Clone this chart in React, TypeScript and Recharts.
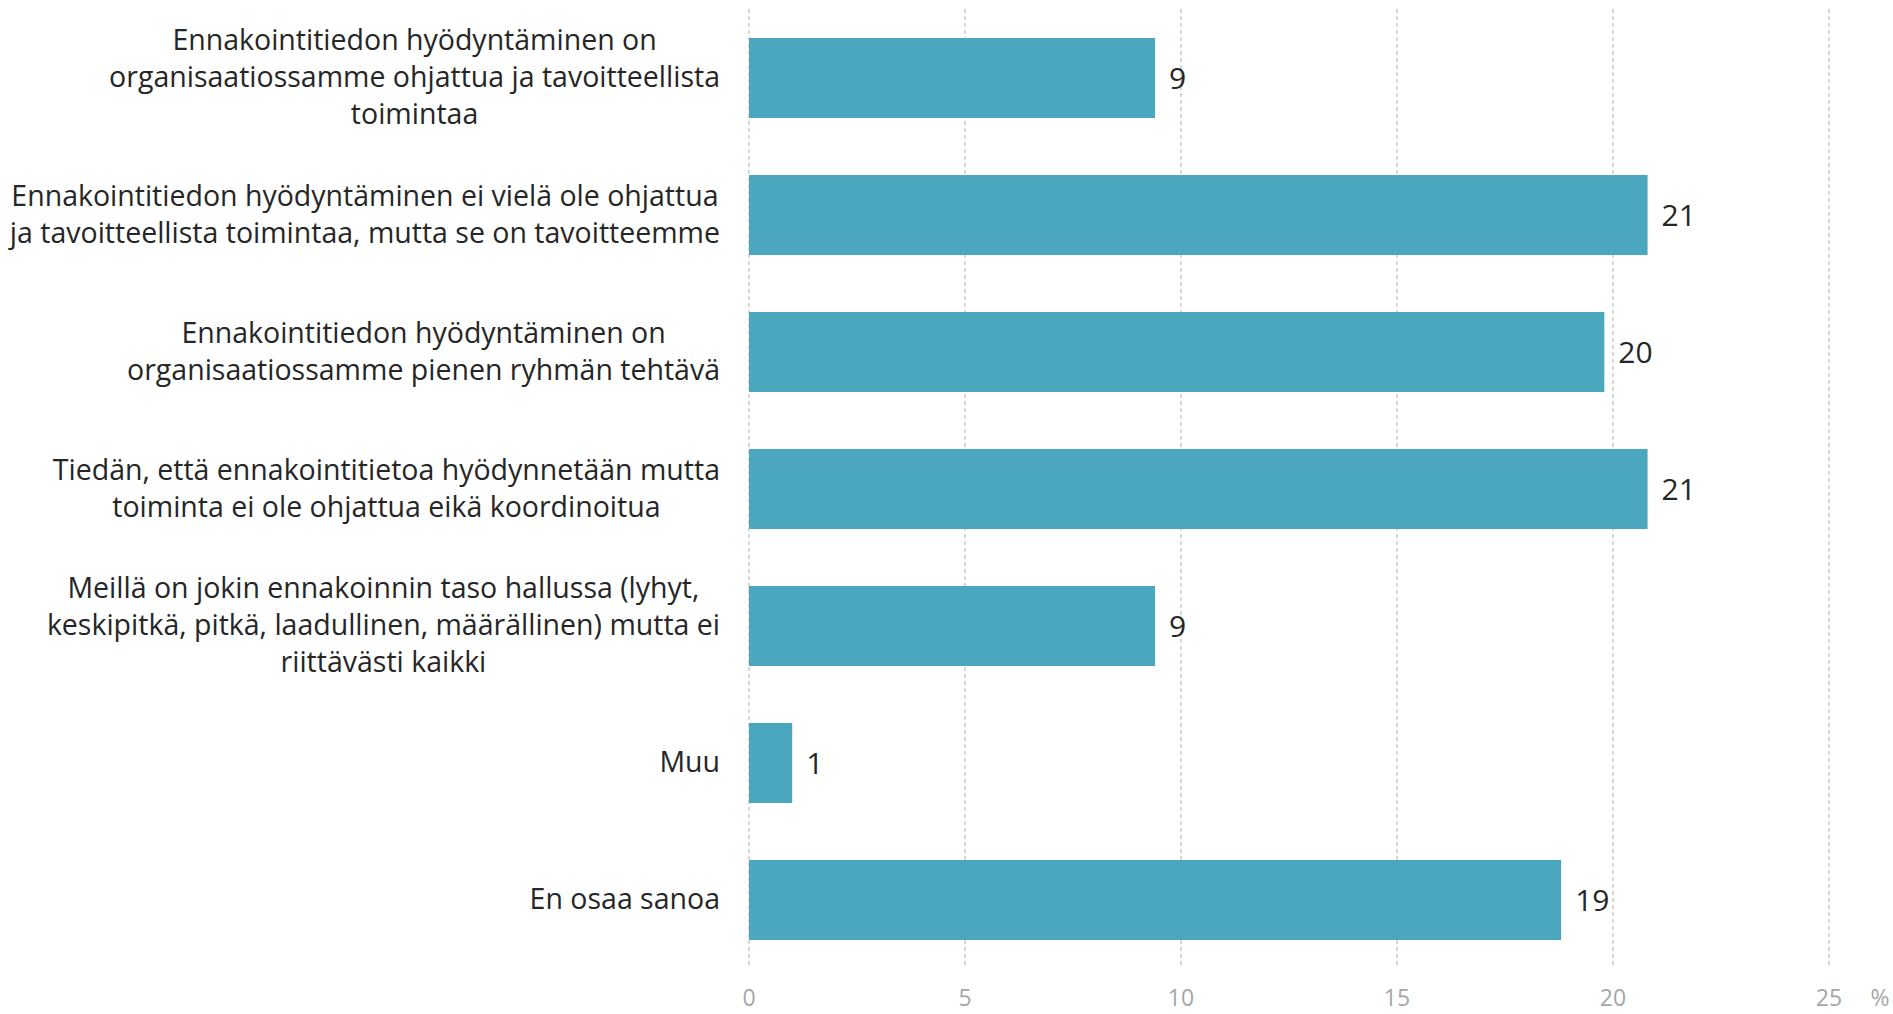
import { Bar, BarChart, CartesianGrid, LabelList, XAxis, YAxis } from "recharts";

const categories = [
  "Ennakointitiedon hyödyntäminen on\norganisaatiossamme ohjattua ja tavoitteellista\ntoimintaa",
  "Ennakointitiedon hyödyntäminen ei vielä ole ohjattua\nja tavoitteellista toimintaa, mutta se on tavoitteemme",
  "Ennakointitiedon hyödyntäminen on\norganisaatiossamme pienen ryhmän tehtävä",
  "Tiedän, että ennakointitietoa hyödynnetään mutta\ntoiminta ei ole ohjattua eikä koordinoitua",
  "Meillä on jokin ennakoinnin taso hallussa (lyhyt,\nkeskipitkä, pitkä, laadullinen, määrällinen) mutta ei\nriittävästi kaikki",
  "Muu",
  "En osaa sanoa",
];

const shares = [9.4, 20.8, 19.8, 20.8, 9.4, 1.0, 18.8];

const xTicks = [0, 5, 10, 15, 20, 25];

const data = categories.map((name, i) => ({ name, value: shares[i] }));

const FONT = "'Open Sans', sans-serif";
const LABEL_SIZE = 28.5;
const LINE_H = 37;

let ctx: CanvasRenderingContext2D | null = null;
function textWidth(s: string) {
  if (!ctx) ctx = document.createElement("canvas").getContext("2d");
  if (!ctx) return s.length * LABEL_SIZE * 0.5;
  ctx.font = `${LABEL_SIZE}px 'Open Sans'`;
  return ctx.measureText(s).width;
}

function CategoryTick(props: any) {
  const { x, y, payload } = props;
  const lines: string[] = String(payload.value).split("\n");
  const maxW = Math.max(...lines.map(textWidth));
  const cx = x - maxW / 2;
  const startY = y - ((lines.length - 1) * LINE_H) / 2;
  return (
    <text
      x={cx}
      y={startY}
      textAnchor="middle"
      fill="#262626"
      fontSize={LABEL_SIZE}
      fontFamily={FONT}
    >
      {lines.map((l, i) => (
        <tspan key={i} x={cx} y={startY + i * LINE_H} dy="0.35em">
          {l}
        </tspan>
      ))}
    </text>
  );
}

export default function App() {
  return (
    <div style={{ position: "absolute", left: 0, top: 0, background: "#fff" }}>
      <BarChart
        width={1893}
        height={1014}
        data={data}
        layout="vertical"
        barSize={80}
        margin={{ top: 9, right: 64, left: 0, bottom: 0 }}
      >
        <CartesianGrid horizontal={false} stroke="#b0b0b0" strokeDasharray="4 3" />
        <XAxis
          type="number"
          domain={[0, 25]}
          ticks={xTicks}
          axisLine={false}
          tickLine={false}
          tickSize={0}
          tickMargin={22}
          height={46}
          tick={{ fill: "#a6a6a6", fontSize: 23, fontFamily: FONT }}
          label={{
            content: (p: any) => {
              const vb = p.viewBox || {};
              return (
                <text
                  x={vb.x + vb.width + 51}
                  y={998}
                  dy="0.35em"
                  textAnchor="middle"
                  fill="#a6a6a6"
                  fontSize={23}
                  fontFamily={FONT}
                >
                  %
                </text>
              );
            },
          }}
        />
        <YAxis
          type="category"
          dataKey="name"
          width={749}
          axisLine={false}
          tickLine={false}
          tickSize={0}
          tickMargin={29}
          interval={0}
          tick={<CategoryTick />}
        />
        <Bar dataKey="value" fill="#4ba7be" isAnimationActive={false}>
          <LabelList
            dataKey="value"
            position="right"
            offset={14}
            formatter={(v: any) => Math.round(Number(v))}
            fill="#262626"
            fontSize={30}
            fontFamily={FONT}
          />
        </Bar>
      </BarChart>
    </div>
  );
}
